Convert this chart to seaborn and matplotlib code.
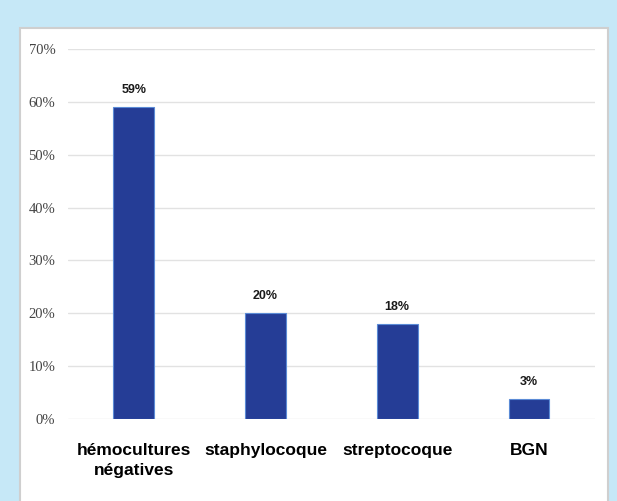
import matplotlib
matplotlib.use("Agg")
import matplotlib.pyplot as plt
import seaborn as sns
import pandas as pd
from matplotlib.patches import Rectangle
from matplotlib.ticker import PercentFormatter

categories = ["hémocultures\nnégatives", "staphylocoque", "streptocoque", "BGN"]
values = [59, 20, 18, 3.8]
value_labels = ["59%", "20%", "18%", "3%"]

df = pd.DataFrame({"germe": categories, "pct": values})

sns.set_style("white")
narrow = ["Liberation Sans Narrow", "Liberation Sans", "DejaVu Sans"]

fig = plt.figure(figsize=(6.17, 5.01), dpi=100)
fig.patch.set_facecolor("#c6e8f7")

# white panel behind the axes
panel = Rectangle((20 / 617, -0.05), 588 / 617, 1 - 28 / 501 + 0.05,
                  transform=fig.transFigure, facecolor="white",
                  edgecolor="#cfcfcf", linewidth=1.5, zorder=-5)
fig.patches.append(panel)

ax = fig.add_axes([0.110, 0.1637, 0.854, 0.7385])
ax.set_facecolor("none")
ax.set_zorder(1)

sns.barplot(data=df, x="germe", y="pct", ax=ax, color="#253d96",
            width=0.31, edgecolor="#5b8bd6", linewidth=0.8, saturation=1,
            zorder=3)

ax.set_ylim(0, 70)
ax.set_yticks(range(0, 71, 10))
ax.yaxis.set_major_formatter(PercentFormatter(decimals=0))
ax.grid(axis="y", color="#e2e2e2", linewidth=1, zorder=0)
ax.set_axisbelow(True)
for s in ax.spines.values():
    s.set_visible(False)
ax.tick_params(axis="y", length=0, pad=9, labelsize=10.5, labelcolor="#444444")
ax.tick_params(axis="x", length=0, pad=17)
for t in ax.get_yticklabels():
    t.set_family(["Liberation Serif", "DejaVu Serif"])
for t in ax.get_xticklabels():
    t.set_family(narrow)
    t.set_fontsize(12.5)
    t.set_fontweight("bold")
    t.set_color("black")
    t.set_linespacing(1.45)
ax.set_xlabel("")
ax.set_ylabel("")

for i, (v, lab) in enumerate(zip(values, value_labels)):
    ax.annotate(lab, (i, v), xytext=(0, 8), textcoords="offset points",
                ha="center", va="bottom", fontsize=9, fontweight="bold",
                family=narrow, color="#1a1a1a")

fig.savefig("out.png", dpi=100, facecolor=fig.get_facecolor())
